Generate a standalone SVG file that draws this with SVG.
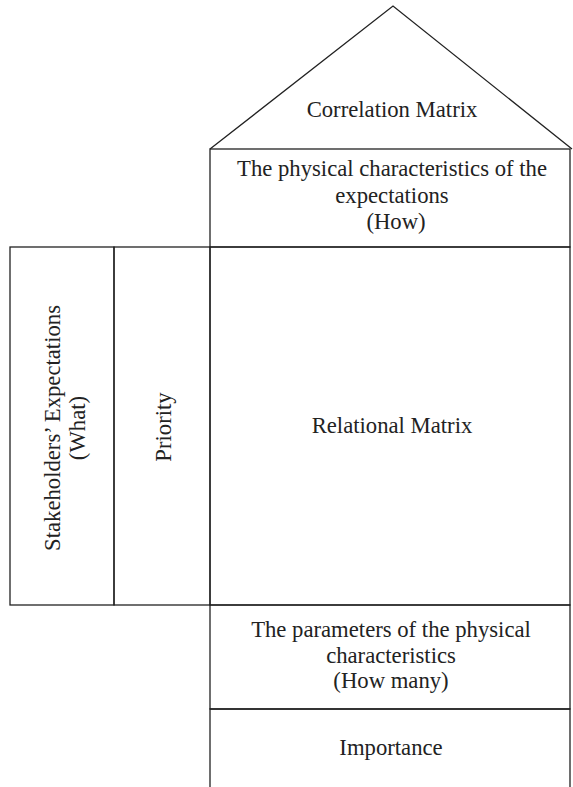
<svg xmlns="http://www.w3.org/2000/svg" width="573" height="787" viewBox="0 0 573 787">
  <style>
    .box { fill: none; stroke: #222; stroke-width: 1.3; }
    .lbl { font-family: "Liberation Serif", "Times New Roman", serif; font-size: 22.7px; fill: #222; text-anchor: middle; }
  </style>
  <rect width="573" height="787" fill="#fff"/>

  <!-- roof: correlation matrix -->
  <g id="roof">
    <polyline class="box" points="210,149 393,6 572,149"/>
    <text class="lbl" x="392" y="117">Correlation Matrix</text>
  </g>

  <!-- how: physical characteristics -->
  <g id="how">
    <rect class="box" x="210" y="149" width="360" height="98"/>
    <text class="lbl" x="392" y="176">The physical characteristics of the</text>
    <text class="lbl" x="392" y="203">expectations</text>
    <text class="lbl" x="396" y="229">(How)</text>
  </g>

  <!-- what: stakeholders' expectations -->
  <g id="what">
    <rect class="box" x="10" y="247" width="104" height="358"/>
    <text class="lbl" transform="translate(60,428) rotate(-90)">Stakeholders’ Expectations</text>
    <text class="lbl" transform="translate(85,428) rotate(-90)">(What)</text>
  </g>

  <!-- priority -->
  <g id="priority">
    <rect class="box" x="114" y="247" width="96" height="358"/>
    <text class="lbl" transform="translate(171,427) rotate(-90)">Priority</text>
  </g>

  <!-- relational matrix -->
  <g id="relational">
    <rect class="box" x="210" y="247" width="360" height="358"/>
    <text class="lbl" x="392" y="433">Relational Matrix</text>
  </g>

  <!-- how many: parameters -->
  <g id="how-many">
    <rect class="box" x="210" y="605" width="360" height="104"/>
    <text class="lbl" x="391" y="637">The parameters of the physical</text>
    <text class="lbl" x="391" y="663">characteristics</text>
    <text class="lbl" x="391" y="688">(How many)</text>
  </g>

  <!-- importance -->
  <g id="importance">
    <polyline class="box" points="210,787 210,709 570,709 570,787"/>
    <text class="lbl" x="391" y="755">Importance</text>
  </g>
</svg>
